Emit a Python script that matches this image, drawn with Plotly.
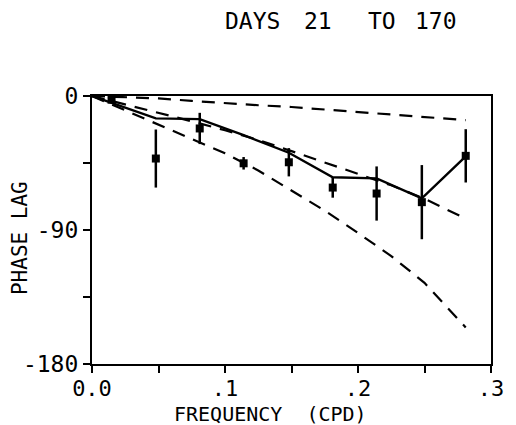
import plotly.graph_objects as go

# Observed phase lag (degrees) with error half-widths
freq_obs = [0.0147, 0.048, 0.081, 0.114, 0.148, 0.181, 0.214, 0.248, 0.281]
phase_obs = [-2.5, -42.0, -21.8, -45.2, -44.5, -61.5, -65.5, -71.3, -40.2]
phase_err = [1.5, 19.5, 10.5, 4.2, 9.5, 6.8, 18.2, 24.9, 17.9]

# Solid fitted curve
freq_fit = [0.0, 0.048, 0.081, 0.114, 0.148, 0.181, 0.214, 0.248, 0.281]
phase_fit = [0.0, -15.0, -15.5, -26.3, -38.1, -54.6, -55.3, -68.8, -40.5]

# Dashed model curves
freq_model = [0.0, 0.025, 0.05, 0.075, 0.1, 0.125, 0.15, 0.175, 0.2, 0.225, 0.25, 0.275, 0.281]
phase_upper = [0.0, -0.6, -1.6, -3.3, -4.9, -6.2, -7.4, -9.0, -10.6, -12.2, -14.0, -15.7, -16.2]
phase_middle = [0.0, -5.5, -11.5, -17.0, -23.0, -29.5, -37.0, -44.5, -52.0, -60.0, -69.0, -79.5, -82.4]
phase_lower = [0.0, -9.5, -19.0, -28.5, -38.5, -50.0, -63.5, -77.0, -92.0, -107.5, -125.5, -149.5, -155.5]

x_ticks = [0, 0.05, 0.1, 0.15, 0.2, 0.25, 0.3]
x_ticktext = ["0.0", "", ".1", "", ".2", "", ".3"]
y_ticks = [-180, -135, -90, -45, 0]
y_ticktext = ["-180", "", "-90", "", "0"]

title_words = ["DAYS", "21", "TO", "170"]

FONT = "DejaVu Sans Mono"
INK = "black"

fig = go.Figure()

dash = "13px,9px"
for ph in (phase_upper, phase_middle, phase_lower):
    fig.add_trace(go.Scatter(x=freq_model, y=ph, mode="lines",
                             line=dict(color=INK, width=2.2, dash=dash),
                             showlegend=False, hoverinfo="skip"))

fig.add_trace(go.Scatter(x=freq_fit, y=phase_fit, mode="lines",
                         line=dict(color=INK, width=2.4),
                         showlegend=False))

fig.add_trace(go.Scatter(x=freq_obs, y=phase_obs, mode="markers",
                         marker=dict(symbol="square", size=8, color=INK),
                         error_y=dict(type="data", array=phase_err, visible=True,
                                      color=INK, thickness=2.5, width=0),
                         showlegend=False))

fig.update_xaxes(range=[0, 0.3], tickvals=x_ticks, ticktext=x_ticktext,
                 showline=True, linecolor=INK, linewidth=2.2, mirror=True,
                 ticks="outside", ticklen=7, tickwidth=2, tickcolor=INK,
                 showgrid=False, zeroline=False, ticklabelstandoff=-4,
                 tickfont=dict(family=FONT, size=22, color=INK))
fig.update_yaxes(range=[-180, 0], tickvals=y_ticks, ticktext=y_ticktext,
                 showline=True, linecolor=INK, linewidth=2.2, mirror=True,
                 ticks="outside", ticklen=7, tickwidth=2, tickcolor=INK,
                 showgrid=False, zeroline=False,
                 tickfont=dict(family=FONT, size=23, color=INK))

annotations = []
title_x = [0.4012, 0.5659, 0.7268, 0.8634]
for word, xp in zip(title_words, title_x):
    annotations.append(dict(text=word, x=xp, y=1.28, xref="paper", yref="paper",
                            xanchor="center", yanchor="middle", showarrow=False,
                            font=dict(family=FONT, size=23, color=INK)))
annotations.append(dict(text="PHASE LAG", x=-0.1805, y=0.47, xref="paper", yref="paper",
                        xanchor="center", yanchor="middle", showarrow=False, textangle=-90,
                        font=dict(family=FONT, size=21, color=INK)))
annotations.append(dict(text="FREQUENCY\u00a0\u00a0(CPD)", x=0.4463, y=-0.188,
                        xref="paper", yref="paper",
                        xanchor="center", yanchor="middle", showarrow=False,
                        font=dict(family=FONT, size=20, color=INK)))

fig.update_layout(width=516, height=425,
                  margin=dict(l=92, r=14, t=96, b=61),
                  paper_bgcolor="white", plot_bgcolor="white",
                  annotations=annotations, showlegend=False)

fig.write_html("out.html")
